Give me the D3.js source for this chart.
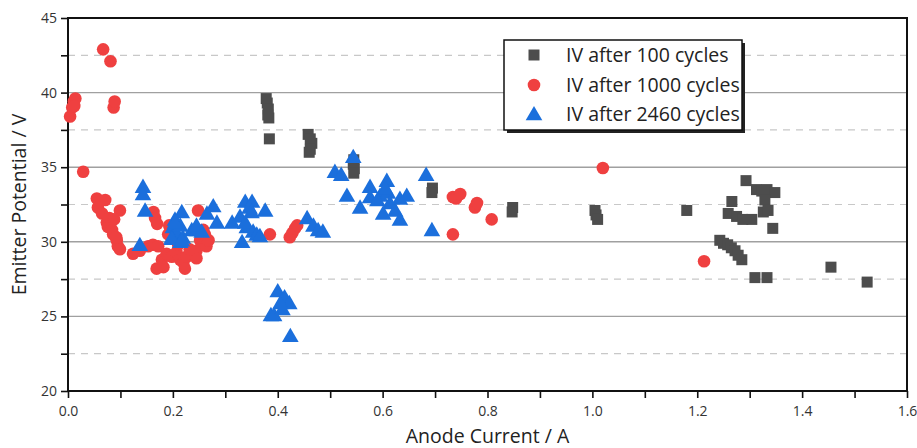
<!DOCTYPE html>
<html><head><meta charset="utf-8">
<script src="https://cdn.jsdelivr.net/npm/d3@7"></script>
<style>body{margin:0;background:#fff;} svg{display:block;font-family:"Open Sans","Noto Sans",sans-serif;}</style>
</head><body>
<svg id="chart" width="917" height="448"></svg>
<script>
const seriesNames = ["IV after 100 cycles", "IV after 1000 cycles", "IV after 2460 cycles"];
const xTickLabels = ["0.0","0.2","0.4","0.6","0.8","1.0","1.2","1.4","1.6"];
const yTickLabels = ["20","25","30","35","40","45"];
const yGridMinor = [22.5,27.5,32.5,37.5,42.5];
const yGridMajor = [25,30,35,40];

const iv100 = [
[0.378,39.6],[0.380,39.3],[0.382,38.9],[0.381,38.5],[0.383,38.3],[0.384,36.9],
[0.458,37.2],[0.462,36.9],[0.465,36.6],[0.462,36.2],[0.460,36.0],
[0.545,35.5],[0.544,35.2],[0.546,34.9],[0.545,34.6],
[0.695,33.6],[0.694,33.3],
[0.848,32.3],[0.847,32.0],
[1.005,32.1],[1.007,31.8],[1.010,31.5],
[1.180,32.1],
[1.243,30.1],[1.250,29.9],[1.258,29.8],[1.265,29.6],[1.272,29.4],[1.278,29.1],[1.285,28.8],
[1.259,31.9],[1.266,32.7],[1.275,31.7],[1.287,31.5],[1.304,31.5],
[1.293,34.1],[1.313,33.5],[1.323,33.4],[1.333,33.5],[1.348,33.3],[1.329,32.8],
[1.326,32.0],[1.335,32.1],[1.344,30.9],
[1.310,27.6],[1.333,27.6],[1.455,28.3],[1.524,27.3]
];
const iv1000 = [
[0.004,38.4],[0.008,39.0],[0.011,39.4],[0.014,39.6],[0.012,39.1],
[0.067,42.9],[0.081,42.1],[0.087,39.0],[0.089,39.4],
[0.029,34.7],
[0.055,32.9],[0.057,32.3],[0.071,32.8],[0.065,31.9],[0.074,31.3],[0.076,31.0],[0.084,30.8],[0.086,30.5],[0.093,30.1],[0.095,29.7],[0.099,29.5],[0.099,32.1],[0.079,31.6],[0.088,31.5],[0.092,30.3],
[0.124,29.2],[0.137,29.4],[0.153,29.7],[0.162,29.8],[0.172,29.7],
[0.163,32.0],[0.166,31.6],[0.170,31.2],
[0.169,28.2],[0.179,28.8],[0.182,28.3],[0.188,29.2],[0.191,30.5],[0.195,30.9],[0.193,31.1],[0.198,29.0],[0.207,29.3],[0.214,28.8],[0.220,28.6],[0.223,28.2],[0.226,29.0],[0.239,29.2],[0.245,29.4],[0.252,30.1],[0.255,29.8],[0.258,30.8],[0.261,30.5],[0.264,29.7],[0.268,30.1],[0.248,32.1],[0.245,28.9],[0.232,29.5],[0.210,29.8],
[0.385,30.5],[0.423,30.3],[0.428,30.6],[0.433,30.9],[0.437,31.1],
[0.734,33.0],[0.740,32.9],[0.748,33.2],[0.734,30.5],[0.776,32.3],[0.780,32.6],[0.808,31.5],
[1.020,34.95],[1.213,28.7]
];
const iv2460 = [
[0.143,33.7],[0.143,33.2],[0.147,32.1],[0.137,29.8],
[0.217,32.0],[0.204,31.5],[0.200,31.0],[0.207,30.6],[0.198,30.3],[0.219,30.3],[0.214,30.0],[0.214,31.1],[0.204,31.3],[0.198,30.2],[0.217,30.1],
[0.236,30.8],[0.246,30.8],[0.255,30.7],[0.245,31.1],
[0.265,31.9],[0.277,32.4],[0.284,31.3],
[0.313,31.3],[0.332,30.0],[0.328,31.7],[0.338,32.7],[0.351,32.7],[0.346,32.3],[0.376,32.1],[0.341,31.0],[0.353,30.7],[0.360,30.5],[0.366,30.4],[0.338,31.3],[0.350,32.0],
[0.387,25.1],[0.393,25.1],[0.400,26.7],[0.413,26.3],[0.422,25.9],[0.409,25.5],[0.405,25.9],[0.424,23.7],
[0.456,31.6],[0.468,31.1],[0.477,30.8],[0.486,30.7],
[0.509,34.7],[0.521,34.5],[0.544,35.7],[0.532,33.1],[0.557,32.3],[0.576,33.7],[0.608,34.1],[0.576,33.0],[0.595,33.1],[0.610,33.3],[0.614,32.6],[0.633,32.9],[0.646,33.1],[0.601,31.9],[0.624,32.1],[0.633,31.5],[0.590,32.8],[0.605,33.6],
[0.683,34.5],[0.694,30.8]
];

const colors = ["#4d4d4d", "#ef4040", "#1b6fdc"];
const svg = d3.select("#chart");
const L = 68, R = 907, T = 18, B = 391;
const x = d3.scaleLinear().domain([0,1.6]).range([L,R]);
const y = d3.scaleLinear().domain([20,45]).range([B,T]);

// grid
svg.append("g").selectAll("line").data(yGridMinor).join("line")
  .attr("x1",L).attr("x2",R).attr("y1",d=>y(d)).attr("y2",d=>y(d))
  .attr("stroke","#c8c8c8").attr("stroke-width",1.2).attr("stroke-dasharray","7,6");
svg.append("g").selectAll("line").data(yGridMajor).join("line")
  .attr("x1",L).attr("x2",R).attr("y1",d=>y(d)).attr("y2",d=>y(d))
  .attr("stroke","#a0a0a0").attr("stroke-width",1.4);

// axes
const labelMapX = new Map(xTickLabels.map(s=>[Math.round(+s*10), s]));
const xAxis = d3.axisBottom(x).tickValues(d3.range(0,17).map(i=>i/10)).tickSize(7)
  .tickFormat(d => labelMapX.get(Math.round(d*10)) || "");
const gx = svg.append("g").attr("transform",`translate(0,${B})`).call(xAxis);
const labelMapY = new Map(yTickLabels.map(s=>[+s, s]));
const yAxis = d3.axisLeft(y).tickValues(d3.range(0,11).map(i=>20+i*2.5)).tickSize(7)
  .tickFormat(d => labelMapY.get(d) || "");
const gy = svg.append("g").attr("transform",`translate(${L},0)`).call(yAxis);
[gx,gy].forEach(g=>{
  g.select(".domain").remove();
  g.selectAll(".tick line").attr("stroke","#111").attr("stroke-width",1.6);
  g.selectAll(".tick text").attr("fill","#333").style("font-size","14px").style("font-family","'Open Sans','Noto Sans',sans-serif");
});
gx.selectAll(".tick text").attr("dy","1.05em");
gy.selectAll(".tick text").attr("dx","-1px");

// frame
svg.append("rect").attr("x",L).attr("y",T).attr("width",R-L).attr("height",B-T)
  .attr("fill","none").attr("stroke","#111").attr("stroke-width",2);

const sq = d3.symbol().type(d3.symbolSquare).size(121);
const tri = d3.symbol().type(d3.symbolTriangle).size(120);

const marks = svg.append("g");
marks.append("g").selectAll("path").data(iv100).join("path")
  .attr("d",sq).attr("transform",d=>`translate(${x(d[0])},${y(d[1])})`).attr("fill",colors[0]);
marks.append("g").selectAll("circle").data(iv1000).join("circle")
  .attr("cx",d=>x(d[0])).attr("cy",d=>y(d[1])).attr("r",6.3).attr("fill",colors[1]);
marks.append("g").selectAll("path").data(iv2460).join("path")
  .attr("d",tri).attr("transform",d=>`translate(${x(d[0])},${y(d[1])+1.5})`).attr("fill",colors[2]);

// legend
const lg = svg.append("g");
lg.append("rect").attr("x",507).attr("y",43).attr("width",238).attr("height",90).attr("fill","#222");
lg.append("rect").attr("x",504).attr("y",40).attr("width",238).attr("height",90).attr("fill","#fff").attr("stroke","#111").attr("stroke-width",1.5);
const rows = [55,85,114];
lg.append("path").attr("d",sq).attr("transform",`translate(534,${rows[0]})`).attr("fill",colors[0]);
lg.append("circle").attr("cx",534).attr("cy",rows[1]).attr("r",6.3).attr("fill",colors[1]);
lg.append("path").attr("d",tri).attr("transform",`translate(534,${rows[2]+1.5})`).attr("fill",colors[2]);
lg.selectAll("text").data(seriesNames).join("text")
  .attr("x",566).attr("y",(d,i)=>rows[i]).attr("dy","0.36em")
  .attr("fill","#222").style("font-size","19.5px").text(d=>d);

// axis titles
svg.append("text").attr("x",(L+R)/2).attr("y",443).attr("text-anchor","middle")
  .attr("fill","#222").style("font-size","19.5px").text("Anode Current / A");
svg.append("text").attr("transform",`translate(26,${(T+B)/2}) rotate(-90)`).attr("text-anchor","middle")
  .attr("fill","#222").style("font-size","19.5px").text("Emitter Potential / V");
</script>
</body></html>
